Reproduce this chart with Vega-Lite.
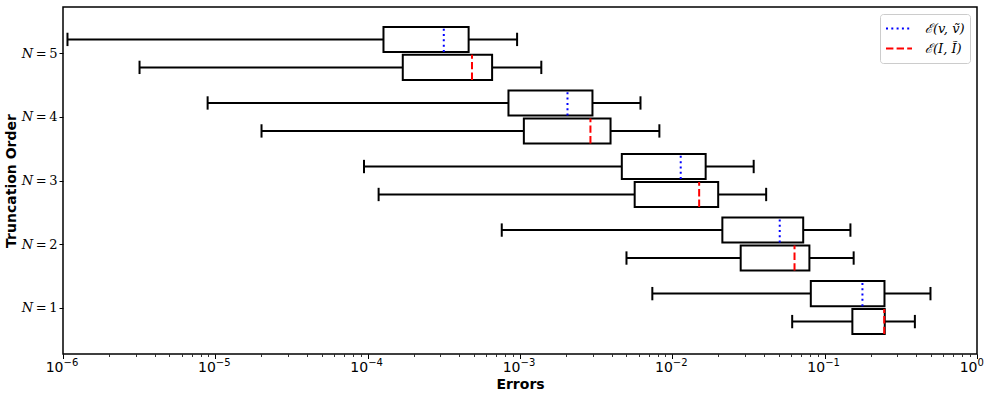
{
  "$schema": "https://vega.github.io/schema/vega-lite/v6.json",
  "autosize": "none",
  "width": 914,
  "height": 347,
  "padding": {"left": 63, "top": 7, "right": 20, "bottom": 45},
  "background": "white",
  "config": {
    "view": {"stroke": "#000", "strokeWidth": 1.5},
    "axis": {"domainColor": "#000", "tickColor": "#000", "labelColor": "#000", "titleColor": "#000", "grid": false}
  },
  "data": {
    "values": [
      {"N": 5, "series": "v", "min": 1.07e-6, "q1": 1.27e-4, "median": 3.16e-4, "q3": 4.60e-4, "max": 9.57e-4},
      {"N": 5, "series": "I", "min": 3.18e-6, "q1": 1.70e-4, "median": 4.84e-4, "q3": 6.56e-4, "max": 1.38e-3},
      {"N": 4, "series": "v", "min": 8.9e-6, "q1": 8.4e-4, "median": 2.05e-3, "q3": 2.99e-3, "max": 6.18e-3},
      {"N": 4, "series": "I", "min": 2.01e-5, "q1": 1.06e-3, "median": 2.90e-3, "q3": 3.93e-3, "max": 8.22e-3},
      {"N": 3, "series": "v", "min": 9.46e-5, "q1": 4.66e-3, "median": 1.135e-2, "q3": 1.655e-2, "max": 3.42e-2},
      {"N": 3, "series": "I", "min": 1.18e-4, "q1": 5.66e-3, "median": 1.50e-2, "q3": 2.00e-2, "max": 4.13e-2},
      {"N": 2, "series": "v", "min": 7.59e-4, "q1": 2.13e-2, "median": 5.07e-2, "q3": 7.23e-2, "max": 0.1476},
      {"N": 2, "series": "I", "min": 5.00e-3, "q1": 2.81e-2, "median": 6.34e-2, "q3": 7.94e-2, "max": 0.155},
      {"N": 1, "series": "v", "min": 7.39e-3, "q1": 8.11e-2, "median": 0.177, "q3": 0.247, "max": 0.495},
      {"N": 1, "series": "I", "min": 6.12e-2, "q1": 0.152, "median": 0.246, "q3": 0.248, "max": 0.391}
    ]
  },
  "transform": [
    {"calculate": "datum.N + (datum.series === 'v' ? 0.22 : -0.22)", "as": "pos"},
    {"calculate": "datum.pos - 0.197", "as": "lo"},
    {"calculate": "datum.pos + 0.197", "as": "hi"},
    {"calculate": "datum.pos - 0.105", "as": "capLo"},
    {"calculate": "datum.pos + 0.105", "as": "capHi"}
  ],
  "resolve": {"axis": {"x": "independent"}},
  "layer": [
    {
      "mark": {"type": "rule", "color": "#000", "strokeWidth": 2},
      "encoding": {
        "x": {"field": "min", "type": "quantitative", "scale": {"type": "log", "domain": [1e-6, 1], "nice": false},
          "axis": {"orient": "bottom", "title": "Errors", "titleFont": "DejaVu Sans", "titleFontSize": 14, "titleFontWeight": "bold", "titlePadding": 3,
            "values": [1e-6, 1e-5, 1e-4, 1e-3, 1e-2, 1e-1, 1],
            "labelExpr": "'10'",
            "labelFont": "DejaVu Sans", "labelFontSize": 14, "labelPadding": 2, "labelAlign": "right", "labelDx": 4, "tickSize": 4.5, "tickWidth": 1, "domain": false, "labelFlush": false, "labelOverlap": false}},
        "x2": {"field": "max"},
        "y": {"field": "pos", "type": "quantitative", "scale": {"domain": [0.27, 5.73], "nice": false, "zero": false},
          "axis": {"title": "Truncation Order", "titleFont": "DejaVu Sans", "titleFontSize": 14, "titleFontWeight": "bold", "titlePadding": 3,
            "values": [1, 2, 3, 4, 5], "labelExpr": "'𝑁\u2009=\u2009' + datum.value", "labelFont": "DejaVu Serif", "labelFontSize": 13, "tickSize": 4, "domain": false, "labelPadding": 2}}
      }
    },
    {
      "mark": {"type": "rule", "color": "#000", "strokeWidth": 2},
      "encoding": {
        "x": {"field": "min", "type": "quantitative", "scale": {"type": "log", "domain": [1e-6, 1], "nice": false},
          "axis": {"orient": "bottom", "title": null, "domain": false, "tickSize": 2.5, "tickWidth": 0.8,
            "labelExpr": "datum.value < 1.5e-6 ? '−6' : (datum.value > 0.9e-5 && datum.value < 1.5e-5) ? '−5' : (datum.value > 0.9e-4 && datum.value < 1.5e-4) ? '−4' : (datum.value > 0.9e-3 && datum.value < 1.5e-3) ? '−3' : (datum.value > 0.9e-2 && datum.value < 1.5e-2) ? '−2' : (datum.value > 0.09 && datum.value < 0.15) ? '−1' : datum.value > 0.95 ? '0' : ''",
            "labelFont": "DejaVu Sans", "labelFontSize": 10, "labelAlign": "left", "labelDx": 4.5, "labelPadding": 0.5, "labelFlush": false, "labelOverlap": false,
            "values": [1e-6,2e-6,3e-6,4e-6,5e-6,6e-6,7e-6,8e-6,9e-6,1e-5,2e-5,3e-5,4e-5,5e-5,6e-5,7e-5,8e-5,9e-5,1e-4,2e-4,3e-4,4e-4,5e-4,6e-4,7e-4,8e-4,9e-4,1e-3,2e-3,3e-3,4e-3,5e-3,6e-3,7e-3,8e-3,9e-3,1e-2,2e-2,3e-2,4e-2,5e-2,6e-2,7e-2,8e-2,9e-2,0.1,0.2,0.3,0.4,0.5,0.6,0.7,0.8,0.9,1]}},
        "y": {"field": "capLo", "type": "quantitative", "scale": {"domain": [0.27, 5.73], "nice": false, "zero": false},
          "axis": {"title": "Truncation Order", "titleFont": "DejaVu Sans", "titleFontSize": 14, "titleFontWeight": "bold", "titlePadding": 3,
            "values": [1, 2, 3, 4, 5], "labelExpr": "'𝑁\u2009=\u2009' + datum.value", "labelFont": "DejaVu Serif", "labelFontSize": 13, "tickSize": 4, "domain": false, "labelPadding": 2}},
        "y2": {"field": "capHi"}
      }
    },
    {
      "mark": {"type": "rule", "color": "#000", "strokeWidth": 2},
      "encoding": {
        "x": {"field": "max", "type": "quantitative", "scale": {"type": "log", "domain": [1e-6, 1], "nice": false}, "axis": null},
        "y": {"field": "capLo", "type": "quantitative", "scale": {"domain": [0.27, 5.73], "nice": false, "zero": false},
          "axis": {"title": "Truncation Order", "titleFont": "DejaVu Sans", "titleFontSize": 14, "titleFontWeight": "bold", "titlePadding": 3,
            "values": [1, 2, 3, 4, 5], "labelExpr": "'𝑁\u2009=\u2009' + datum.value", "labelFont": "DejaVu Serif", "labelFontSize": 13, "tickSize": 4, "domain": false, "labelPadding": 2}},
        "y2": {"field": "capHi"}
      }
    },
    {
      "mark": {"type": "rect", "fill": "white", "stroke": "#000", "strokeWidth": 2},
      "encoding": {
        "x": {"field": "q1", "type": "quantitative", "scale": {"type": "log", "domain": [1e-6, 1], "nice": false}, "axis": null},
        "x2": {"field": "q3"},
        "y": {"field": "lo", "type": "quantitative", "scale": {"domain": [0.27, 5.73], "nice": false, "zero": false},
          "axis": {"title": "Truncation Order", "titleFont": "DejaVu Sans", "titleFontSize": 14, "titleFontWeight": "bold", "titlePadding": 3,
            "values": [1, 2, 3, 4, 5], "labelExpr": "'𝑁\u2009=\u2009' + datum.value", "labelFont": "DejaVu Serif", "labelFontSize": 13, "tickSize": 4, "domain": false, "labelPadding": 2}},
        "y2": {"field": "hi"}
      }
    },
    {
      "mark": {"type": "rule", "strokeWidth": 2},
      "encoding": {
        "x": {"field": "median", "type": "quantitative", "scale": {"type": "log", "domain": [1e-6, 1], "nice": false}, "axis": null},
        "y": {"field": "lo", "type": "quantitative", "scale": {"domain": [0.27, 5.73], "nice": false, "zero": false},
          "axis": {"title": "Truncation Order", "titleFont": "DejaVu Sans", "titleFontSize": 14, "titleFontWeight": "bold", "titlePadding": 3,
            "values": [1, 2, 3, 4, 5], "labelExpr": "'𝑁\u2009=\u2009' + datum.value", "labelFont": "DejaVu Serif", "labelFontSize": 13, "tickSize": 4, "domain": false, "labelPadding": 2}},
        "y2": {"field": "hi"},
        "color": {"field": "series", "type": "nominal", "scale": {"domain": ["v", "I"], "range": ["#0000ff", "#ff0000"]},
          "legend": {"title": null, "orient": "top-right", "offset": 7, "padding": 5, "cornerRadius": 3, "strokeColor": "#cccccc", "fillColor": "white",
            "symbolType": "stroke", "symbolSize": 676, "symbolStrokeWidth": 2, "clipHeight": 19, "labelFont": "DejaVu Serif", "labelFontStyle": "italic", "labelFontSize": 13, "rowPadding": 1, "labelOffset": 12,
            "labelExpr": "datum.value === 'v' ? 'ℰ(v, ṽ)' : 'ℰ(I, Ĩ)'"}},
        "strokeDash": {"field": "series", "type": "nominal", "scale": {"domain": ["v", "I"], "range": [[2, 3.3], [7.4, 3.2]]},
          "legend": {"title": null, "orient": "top-right", "offset": 7, "padding": 5, "cornerRadius": 3, "strokeColor": "#cccccc", "fillColor": "white",
            "symbolType": "stroke", "symbolSize": 676, "symbolStrokeWidth": 2, "clipHeight": 19, "labelFont": "DejaVu Serif", "labelFontStyle": "italic", "labelFontSize": 13, "rowPadding": 1, "labelOffset": 12,
            "labelExpr": "datum.value === 'v' ? 'ℰ(v, ṽ)' : 'ℰ(I, Ĩ)'"}}
      }
    }
  ]
}
